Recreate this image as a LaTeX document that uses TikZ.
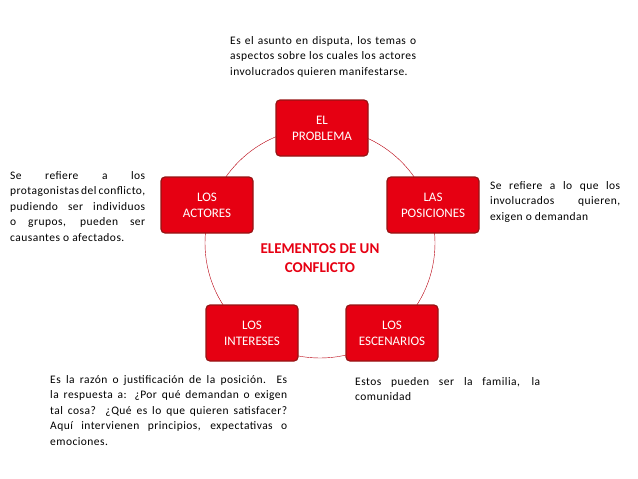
\documentclass[tikz,border=0pt]{standalone}
\usepackage{fontspec}
\setmainfont{Carlito}
\usetikzlibrary{positioning}
\hyphenpenalty=10000
\exhyphenpenalty=10000
\tolerance=9999
\definecolor{boxred}{RGB}{230,0,18}
\definecolor{boxline}{RGB}{150,20,20}
\tikzset{
  elembox/.style={draw=boxline,fill=boxred,rounded corners=4pt,line width=1.2pt,
    minimum width=92pt,minimum height=56pt,text=white,align=center,
    font=\fontsize{13}{16}\selectfont},
  note/.style={align=justify,font=\fontsize{11.5}{15.5}\addfontfeature{LetterSpace=4}\selectfont,inner sep=0pt}
}
\begin{document}
\begin{tikzpicture}[x=1pt,y=1pt]
\useasboundingbox (0,0) rectangle (638,-479);

% Circle
\draw[boxred!80!black] (320,-243) circle (115);

% Elements
\node[elembox] (problema) at (322,-128) {EL\\PROBLEMA};
\node[elembox] (posiciones) at (433,-205) {LAS\\POSICIONES};
\node[elembox] (actores) at (207,-205) {LOS\\ACTORES};
\node[elembox] (intereses) at (252,-333) {LOS\\INTERESES};
\node[elembox] (escenarios) at (392,-333) {LOS\\ESCENARIOS};

% Center title
\node[text=boxred,font=\fontsize{15}{19}\selectfont\bfseries,align=center] (titulo) at (320,-258) {ELEMENTOS DE UN\\CONFLICTO};

% Notes
\node[note,text width=186pt,anchor=north west] (nprob) at (230,-36) {Es el asunto en disputa, los temas o aspectos sobre los cuales los actores involucrados quieren manifestarse.};
\node[note,text width=130pt,anchor=north west] (npos) at (490,-181) {Se refiere a lo que los involucrados quieren, exigen o demandan};
\node[note,text width=135pt,anchor=north west] (nact) at (10,-171) {Se refiere a los protagonistas del conflicto, pudiendo ser individuos o grupos, pueden ser causantes o afectados.};
\node[note,text width=237pt,anchor=north west] (nint) at (50,-375) {Es la razón o justificación de la posición. Es la respuesta a: ¿Por qué demandan o exigen tal cosa? ¿Qué es lo que quieren satisfacer? Aquí intervienen principios, expectativas o emociones.};
\node[note,text width=185pt,anchor=north west] (nesc) at (355,-377) {Estos pueden ser la familia, la comunidad};
\end{tikzpicture}
\end{document}
